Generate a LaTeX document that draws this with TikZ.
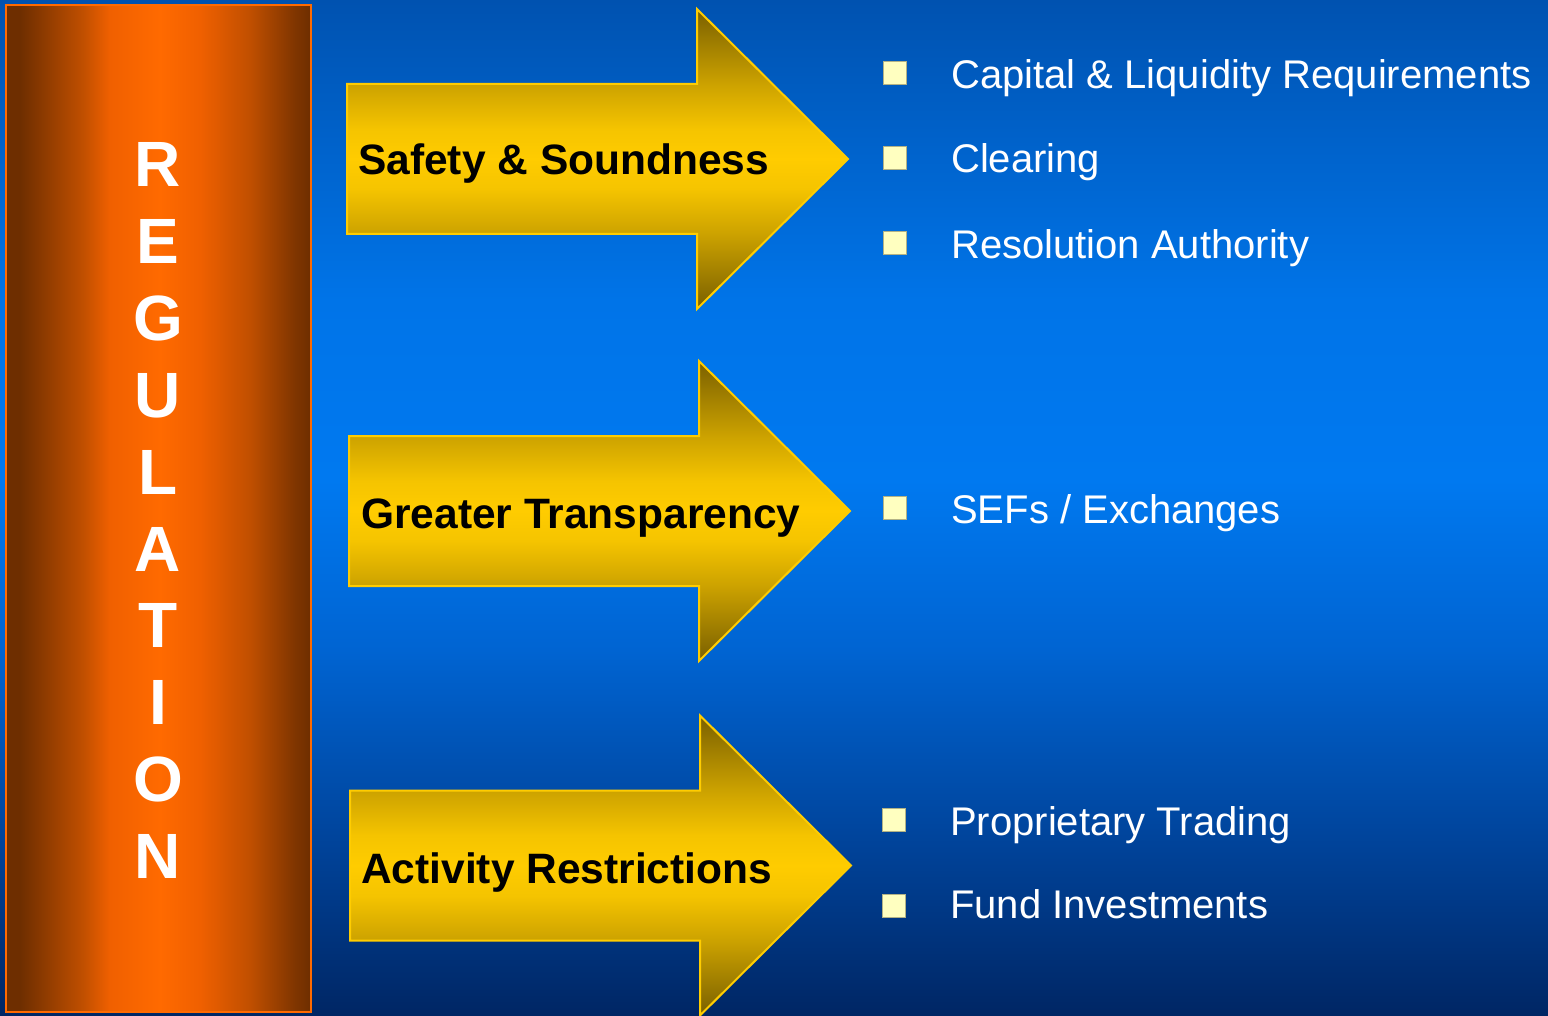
\documentclass[tikz,border=0pt]{standalone}
\usepackage{fontspec}
\setmainfont{Liberation Sans}
\definecolor{bgA}{RGB}{0,82,176}
\definecolor{bgB}{RGB}{0,116,232}
\definecolor{bgC}{RGB}{0,121,240}
\definecolor{bgD}{RGB}{0,100,210}
\definecolor{bgE}{RGB}{0,66,152}
\definecolor{bgF}{RGB}{0,38,100}
\definecolor{barDark}{RGB}{110,46,0}
\definecolor{barMid}{RGB}{127,53,0}
\definecolor{barWarm}{RGB}{192,79,0}
\definecolor{barHot}{RGB}{240,96,0}
\definecolor{barOrange}{RGB}{255,106,0}
\definecolor{goldDark}{RGB}{122,96,0}
\definecolor{goldMid}{RGB}{204,162,0}
\definecolor{goldWarm}{RGB}{245,196,0}
\definecolor{goldBright}{RGB}{255,204,0}
\definecolor{bulletYellow}{RGB}{255,255,192}
\pgfdeclareverticalshading{bgblue}{100bp}{color(0bp)=(bgF); color(25bp)=(bgF); color(33.2bp)=(bgE); color(43bp)=(bgD); color(51.4bp)=(bgC); color(60.2bp)=(bgB); color(75bp)=(bgA); color(100bp)=(bgA)}
\pgfdeclarehorizontalshading{barshade}{100bp}{color(0bp)=(barDark); color(27.3bp)=(barDark); color(37.6bp)=(barWarm); color(42bp)=(barHot); color(50.2bp)=(barOrange); color(56.8bp)=(barHot); color(65bp)=(barWarm); color(72.4bp)=(barMid); color(75bp)=(barDark); color(100bp)=(barDark)}
\pgfdeclareverticalshading{goldshade}{100bp}{color(0bp)=(goldDark); color(25bp)=(goldDark); color(37.5bp)=(goldMid); color(45bp)=(goldWarm); color(50bp)=(goldBright); color(55bp)=(goldWarm); color(62.5bp)=(goldMid); color(75bp)=(goldDark); color(100bp)=(goldDark)}
\tikzset{
  goldarrow/.style={shading=goldshade, draw=goldBright, line width=2pt, line join=miter},
  arrowlabel/.style={anchor=base west, inner sep=0pt, text=black, font=\fontsize{42.5}{50}\selectfont\bfseries},
  itemlabel/.style={anchor=base west, inner sep=0pt, text=white, font=\fontsize{40}{48}\selectfont},
  bulletbox/.style={fill=bulletYellow, draw=bulletYellow!70!black, line width=0.4pt, minimum size=23pt, inner sep=0pt, rectangle},
  barletter/.style={anchor=base, inner sep=0pt, text=white, font=\fontsize{64}{70}\selectfont\bfseries}
}
\newcommand{\drawgoldarrow}[4]{% x0, yc, headx, tipx
  \shade[goldarrow] (#1,#2-75) -- (#3,#2-75) -- (#3,#2-150) -- (#4,#2) -- (#3,#2+150) -- (#3,#2+75) -- (#1,#2+75) -- cycle;
}
\begin{document}
\begin{tikzpicture}[x=1pt,y=-1pt]
\useasboundingbox (0,0) rectangle (1548,1016);
\shade[shading=bgblue] (0,0) rectangle (1548,1016);
% regulation bar
\shade[shading=barshade, draw=barOrange, line width=2pt] (6,5) rectangle (311,1012);
\foreach \l [count=\i from 0] in {R,E,G,U,L,A,T,I,O,N} {
  \node[barletter] (reg\i) at (158,{187+76.8*\i}) {\l};
}
% arrows
\drawgoldarrow{347}{159}{697}{848}
\drawgoldarrow{349}{511}{699}{850}
\drawgoldarrow{350}{865.5}{700}{851}
\node[arrowlabel] (safety) at (358,175) {Safety \& Soundness};
\node[arrowlabel] (transp) at (361,528) {Greater Transparency};
\node[arrowlabel] (activity) at (361,883) {Activity Restrictions};
% bullets
\node[bulletbox] (b1) at (894.5,73) {};
\node[bulletbox] (b2) at (894.5,158) {};
\node[bulletbox] (b3) at (894.5,243) {};
\node[bulletbox] (b4) at (894.5,508) {};
\node[bulletbox] (b5) at (893.5,820) {};
\node[bulletbox] (b6) at (893.5,906) {};
\node[itemlabel] (t1) at (951,89) {Capital \& Liquidity Requirements};
\node[itemlabel] (t2) at (951,173) {Clearing};
\node[itemlabel] (t3) at (951,259) {Resolution Authority};
\node[itemlabel] (t4) at (951,523) {SEFs / Exchanges};
\node[itemlabel] (t5) at (950,835) {Proprietary Trading};
\node[itemlabel] (t6) at (950,918) {Fund Investments};
\end{tikzpicture}
\end{document}
